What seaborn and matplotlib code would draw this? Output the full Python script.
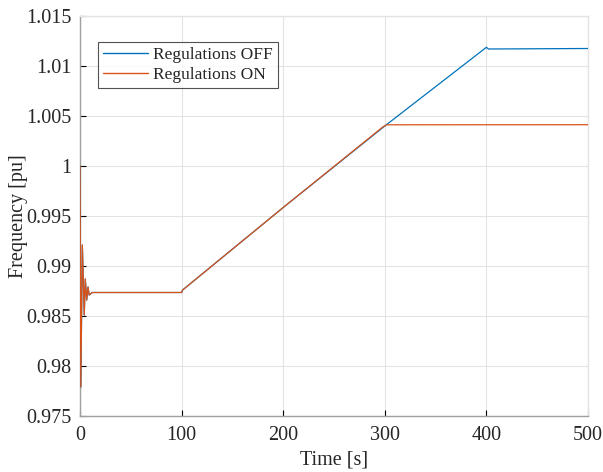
import numpy as np
import pandas as pd
import matplotlib
matplotlib.use("Agg")
import matplotlib.pyplot as plt
import seaborn as sns
from matplotlib.ticker import FuncFormatter

# Data
t_off = [0, 0.8, 2.3, 4.2, 5.2, 6.6, 7.9, 9.0, 12, 100, 101, 200, 300, 400, 402, 500]
f_off = [1.0, 0.9779, 0.9921, 0.9851, 0.9887, 0.9866, 0.9879, 0.9871, 0.98735,
         0.98735, 0.9876, 0.99585, 1.0040, 1.01187, 1.01170, 1.01175]
t_on = [0, 0.8, 2.3, 4.2, 5.2, 6.6, 7.9, 9.0, 12, 100, 101, 200, 298, 302, 500]
f_on = [1.0, 0.9779, 0.9921, 0.9851, 0.9887, 0.9866, 0.9879, 0.9871, 0.98735,
        0.98735, 0.9876, 0.99585, 1.0039, 1.00412, 1.00413]
series = ["Regulations OFF", "Regulations ON"]
x_ticks = [0, 100, 200, 300, 400, 500]
y_ticks = [0.975, 0.98, 0.985, 0.99, 0.995, 1.0, 1.005, 1.01, 1.015]

df = pd.concat([
    pd.DataFrame({"t": t_off, "f": f_off, "s": series[0]}),
    pd.DataFrame({"t": t_on, "f": f_on, "s": series[1]}),
], ignore_index=True)

sns.set_theme(style="white")
plt.rcParams["font.family"] = ["Liberation Serif", "DejaVu Serif"]

fig = plt.figure(figsize=(6.03, 4.72), dpi=100)
ax = fig.add_axes([80/603, 1-416/472, 508/603, 400/472])

sns.lineplot(data=df, x="t", y="f", hue="s", hue_order=series,
             palette=["#0072BD", "#D95319"], linewidth=0.9, ax=ax,
             estimator=None, sort=False, zorder=3)

ax.set_xlim(0, 500)
ax.set_ylim(0.975, 1.015)
ax.set_xticks(x_ticks)
ax.set_yticks(y_ticks)
ax.yaxis.set_major_formatter(FuncFormatter(lambda v, p: "%g" % round(v, 4)))
ax.xaxis.set_major_formatter(FuncFormatter(lambda v, p: "%g" % v))
ax.grid(True, color="#e3e3e3", linewidth=0.8)
ax.set_axisbelow(True)
ax.tick_params(axis="both", direction="in", length=4, width=0.8, color="black",
               labelsize=14.5, left=True, bottom=True, labelcolor="#262626")
ax.tick_params(axis="x", pad=7)
ax.tick_params(axis="y", pad=6)
for side in ["left", "bottom"]:
    ax.spines[side].set_color("#a0a0a0")
    ax.spines[side].set_linewidth(1.0)
for side in ["top", "right"]:
    ax.spines[side].set_color("#e3e3e3")
    ax.spines[side].set_linewidth(1.0)

ax.set_xlabel("Time [s]", fontsize=14.5, color="#262626", labelpad=4)
ax.set_ylabel("Frequency [pu]", fontsize=14.5, color="#262626", labelpad=-1)

leg = ax.legend(loc="upper left", bbox_to_anchor=(0.035, 0.935), fontsize=12.5,
                frameon=True, fancybox=False, handlelength=2.6, handletextpad=0.3,
                borderpad=0.3, labelspacing=0.2, borderaxespad=0)
leg.get_frame().set_edgecolor("#262626")
leg.get_frame().set_linewidth(0.8)
for line in leg.get_lines():
    line.set_linewidth(1.0)

fig.savefig("out.png", dpi=100)
